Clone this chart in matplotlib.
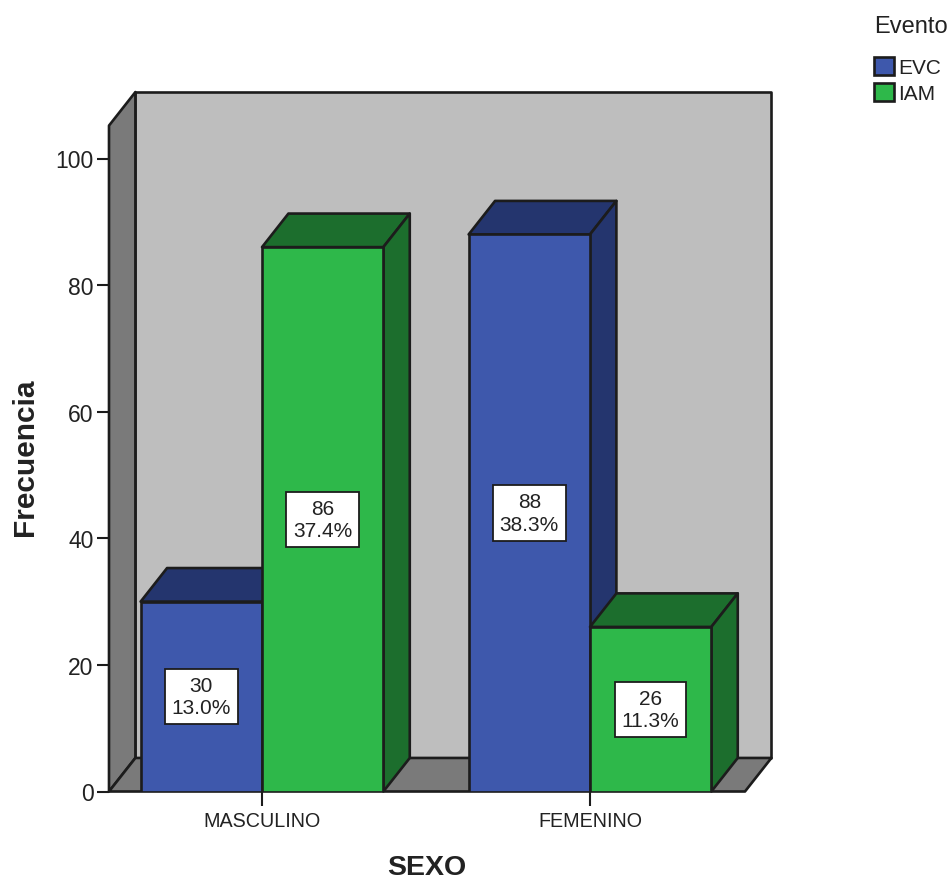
import numpy as np
import matplotlib.pyplot as plt
from matplotlib.patches import Polygon

plt.rcParams['font.family'] = 'Liberation Sans'

categories = ['MASCULINO', 'FEMENINO']
evc = [30, 88]
iam = [86, 26]
evc_pct = [13.0, 38.3]
iam_pct = [37.4, 11.3]
y_ticks = [0, 20, 40, 60, 80, 100]

line_col = '#1c1c1c'
text_col = '#222222'
blue = '#3e58ac'
blue_dark = '#24356e'
green = '#2eb84a'
green_dark = '#1c6e2d'
wall_col = '#bebebe'
side_col = '#7a7a7a'

width = 0.37    # bar width, in category units
dx = 0.0805     # 3d offset along x
dy = 5.3        # 3d offset along y
y_top = 105.2   # height of the front edge of the side wall

fig = plt.figure(figsize=(9.5, 8.79), dpi=100)
ax = fig.add_axes([109 / 950, 86.5 / 879, 636 / 950, 633 / 879])
ax.set_xlim(-0.4665, 1.4726)
ax.set_ylim(0, 100)
ax.patch.set_visible(False)


def face(points, color, z):
    ax.add_patch(Polygon(points, closed=True, facecolor=color, edgecolor=line_col,
                         linewidth=1.9, joinstyle='round', clip_on=False, zorder=z))


x0, x1 = ax.get_xlim()

# back wall, left wall and floor
face([(x0 + dx, dy), (x1 + dx, dy), (x1 + dx, y_top + dy), (x0 + dx, y_top + dy)], wall_col, 1)
face([(x0, 0), (x0 + dx, dy), (x0 + dx, y_top + dy), (x0, y_top)], side_col, 1.5)
face([(x0, 0), (x1, 0), (x1 + dx, dy), (x0 + dx, dy)], side_col, 1.5)


def bar3d(left, h, dark, z):
    right = left + width
    face([(left, h), (right, h), (right + dx, h + dy), (left + dx, h + dy)], dark, z)
    face([(right, 0), (right + dx, dy), (right + dx, h + dy), (right, h)], dark, z)


pos = np.arange(len(categories))
z = 2
for i in pos:
    # left bar then right bar, so each one covers the side of the previous one
    bar3d(i - width, evc[i], blue_dark, z)
    ax.bar(i - width, evc[i], width, align='edge', color=blue, edgecolor=line_col,
           linewidth=1.9, zorder=z + 0.5, label='EVC' if i == 0 else None)
    bar3d(i, iam[i], green_dark, z + 1)
    ax.bar(i, iam[i], width, align='edge', color=green, edgecolor=line_col,
           linewidth=1.9, zorder=z + 1.5, label='IAM' if i == 0 else None)
    for xc, n, p in [(i - width / 2, evc[i], evc_pct[i]), (i + width / 2, iam[i], iam_pct[i])]:
        ax.text(xc, n / 2, f'{n}\n{p:.1f}%', ha='center', va='center', fontsize=15,
                color=text_col, linespacing=1.22, zorder=20,
                bbox=dict(boxstyle='square,pad=0.33', facecolor='white',
                          edgecolor=line_col, linewidth=1.3))
    z += 2

for s in ['top', 'right', 'left', 'bottom']:
    ax.spines[s].set_visible(False)

ax.set_xticks(pos)
ax.set_xticklabels(categories)
ax.set_yticks(y_ticks)
ax.tick_params(axis='x', length=10, width=1.5, color=line_col, labelcolor=text_col,
               labelsize=14.2, pad=4)
ax.tick_params(axis='y', length=9, width=1.5, color=line_col, labelcolor=text_col,
               labelsize=16.5, pad=2)

ax.set_xlabel('SEXO', fontsize=20.5, fontweight='bold', color=text_col, labelpad=17)
ax.set_ylabel('Frecuencia', fontsize=21.5, fontweight='bold', color=text_col, labelpad=12, y=0.53)

leg = fig.legend(loc='upper left', bbox_to_anchor=(870 / 950, 1 - 12 / 879), frameon=False,
                 title='Evento', title_fontsize=17, fontsize=15, alignment='left',
                 handlelength=0.95, handleheight=0.95, handletextpad=0.2,
                 labelspacing=0.3, borderpad=0.2, borderaxespad=0)
leg._legend_box.sep = 14
for t in leg.get_texts():
    t.set_color(text_col)
leg.get_title().set_color(text_col)

plt.savefig('out.png', dpi=100)
